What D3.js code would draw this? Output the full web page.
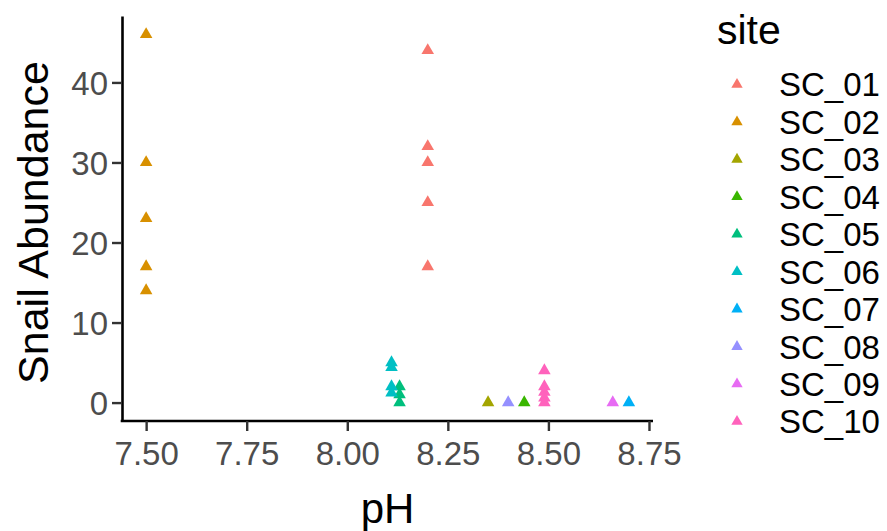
<!DOCTYPE html>
<html>
<head>
<meta charset="utf-8">
<script src="https://cdn.jsdelivr.net/npm/d3@7"></script>
<style>
  body { margin: 0; background: #fff; }
  text { font-family: "Liberation Sans", Arial, sans-serif; }
</style>
</head>
<body>
<div id="chart"></div>
<script>
// Site names and their colours (ggplot hue palette)
const sites = ["SC_01", "SC_02", "SC_03", "SC_04", "SC_05", "SC_06", "SC_07", "SC_08", "SC_09", "SC_10"];
const colors = ["#F8766D", "#D89000", "#A3A500", "#39B600", "#00BF7D", "#00BFC4", "#00B0F6", "#9590FF", "#E76BF3", "#FF62BC"];

// pH of each site and the snail counts measured there
const sitePH = [8.20, 7.50, 8.35, 8.44, 8.13, 8.11, 8.70, 8.40, 8.66, 8.49];
const abundance = [
    [44, 32, 30, 25, 17],
    [46, 30, 23, 17, 14],
    [0],
    [0],
    [2, 1, 0],
    [5, 4.4, 2, 1.2],
    [0],
    [0],
    [0],
    [4, 2, 1.3, 0.6, 0]
];

const xTicks = [7.50, 7.75, 8.00, 8.25, 8.50, 8.75];
const yTicks = [0, 10, 20, 30, 40];

const width = 887, height = 531;
const margin = {left: 122, right: 234, top: 16, bottom: 110};

// flatten into points
const points = [];
sites.forEach((s, i) => {
    abundance[i].forEach(v => points.push({site: s, ph: sitePH[i], n: v, color: colors[i]}));
});

const svg = d3.select("#chart")
    .append("svg")
    .attr("width", width)
    .attr("height", height);

const x = d3.scaleLinear()
    .domain([7.44, 8.76])
    .range([margin.left, width - margin.right]);

const y = d3.scaleLinear()
    .domain([-2.3, 48.3])
    .range([height - margin.bottom, margin.top]);

// axes
const xAxis = svg.append("g")
    .attr("transform", `translate(0,${height - margin.bottom})`)
    .call(d3.axisBottom(x).tickValues(xTicks).tickFormat(d3.format(".2f")).tickSize(10).tickPadding(9).tickSizeOuter(0));

const yAxis = svg.append("g")
    .attr("transform", `translate(${margin.left},0)`)
    .call(d3.axisLeft(y).tickValues(yTicks).tickSize(10).tickPadding(4).tickSizeOuter(0));

[xAxis, yAxis].forEach(g => {
    g.select(".domain").attr("stroke", "#000").attr("stroke-width", 2.6);
    g.selectAll(".tick line").attr("stroke", "#333").attr("stroke-width", 2.4);
    g.selectAll(".tick text")
        .attr("fill", "#4D4D4D")
        .style("font-size", "33px");
});
xAxis.selectAll(".tick text").attr("dy", "0.75em");
yAxis.selectAll(".tick text").attr("dy", "0.36em");

// make the axis lines meet at the corner
xAxis.select(".domain").attr("d", `M${margin.left - 1.3},0H${width - margin.right}`);

// points
const tri = d3.symbol().type(d3.symbolTriangle).size(68);
svg.append("g")
    .selectAll("path")
    .data(points)
    .join("path")
    .attr("d", tri)
    .attr("transform", d => `translate(${x(d.ph)},${y(d.n)})`)
    .attr("fill", d => d.color);

// axis titles
svg.append("text")
    .attr("x", (margin.left + width - margin.right) / 2)
    .attr("y", 523)
    .attr("text-anchor", "middle")
    .style("font-size", "42px")
    .text("pH");

svg.append("text")
    .attr("transform", `translate(48,${(margin.top + height - margin.bottom) / 2 + 4}) rotate(-90)`)
    .attr("text-anchor", "middle")
    .style("font-size", "43px")
    .text("Snail Abundance");

// legend
const legend = svg.append("g");
legend.append("text")
    .attr("x", 717)
    .attr("y", 44)
    .style("font-size", "41px")
    .text("site");

const keyY = d3.scalePoint().domain(sites).range([84.5, 421.5]);
const legendTri = d3.symbol().type(d3.symbolTriangle).size(56);

const items = legend.selectAll("g.item")
    .data(sites)
    .join("g")
    .attr("class", "item")
    .attr("transform", d => `translate(0,${keyY(d)})`);

items.append("path")
    .attr("d", legendTri)
    .attr("transform", "translate(737,0)")
    .attr("fill", (d, i) => colors[i]);

items.append("text")
    .attr("x", 779)
    .attr("dy", "0.36em")
    .style("font-size", "33px")
    .text(d => d);
</script>
</body>
</html>
